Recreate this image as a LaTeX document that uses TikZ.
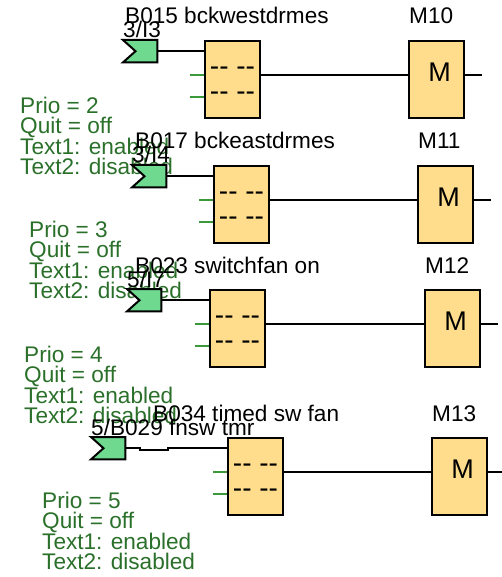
\documentclass[tikz,border=0pt]{standalone}
\usepackage{fontspec}
\setmainfont{Liberation Sans}
\definecolor{flagfill}{HTML}{6FD98F}
\definecolor{boxfill}{HTML}{FFDD8C}
\definecolor{stubgreen}{HTML}{3A9A3A}
\definecolor{notegreen}{HTML}{2A702A}
\setlength{\lineskiplimit}{-100pt}
\setlength{\normallineskiplimit}{-100pt}
\tikzset{
  lbl/.style={anchor=base west,inner sep=0pt,font=\fontsize{22.6}{22.6}\selectfont,text=black},
  note/.style={anchor=north west,inner sep=0pt,align=left,text=notegreen,font=\fontsize{22.6}{20.4}\selectfont},
  flagbox/.style={minimum width=34pt,minimum height=22pt,inner sep=0pt},
  flagshape/.style={draw=black,fill=flagfill,line width=2pt,line join=miter},
  logic/.style={draw=black,fill=boxfill,line width=2pt,minimum width=55pt,minimum height=77pt,inner sep=0pt},
  mletter/.style={inner sep=0pt,font=\fontsize{27}{27}\selectfont},
  dashes/.style={inner sep=0pt,font=\fontsize{28}{28}\selectfont},
  wire/.style={draw=black,line width=2pt},
  stub/.style={draw=stubgreen,line width=2pt},
}
% #1 row id, #2 flag left, #3 top, #4 box left, #5 mem left, #6 title, #7 title x, #8 signal, #9 mem label
\newcommand{\logicrow}[9]{%
  \node[flagbox,anchor=north west] (f#1) at (#2,#3) {};
  \draw[flagshape] (f#1.north west) -- (f#1.north east) -- (f#1.south east) -- (f#1.south west) -- ([xshift=12.5pt]f#1.west) -- cycle;
  \node[logic,anchor=north west] (b#1) at (#4,#3) {};
  \node[logic,anchor=north west] (m#1) at (#5,#3) {};
  \node[mletter] (l#1) at ([xshift=3pt,yshift=7pt]m#1.center) {M};
  \node[dashes] (da#1) at ([yshift=8pt]b#1.center) {-{}- -{}-};
  \node[dashes] (db#1) at ([yshift=-17pt]b#1.center) {-{}- -{}-};
  \coordinate (i#1a) at ([xshift=-14pt,yshift=4.5pt]b#1.west);
  \coordinate (i#1b) at ([xshift=-14pt,yshift=-17.5pt]b#1.west);
  \draw[stub] (i#1a) -- (i#1a -| b#1.west);
  \draw[stub] (i#1b) -- (i#1b -| b#1.west);
  \draw[wire] ([yshift=4.5pt]b#1.east) -- ([yshift=4.5pt]m#1.west);
  \draw[wire] ([yshift=4.5pt]m#1.east) -- ++(16.5pt,0) coordinate (o#1);
  \node[lbl] (t#1) at (#7,#3-16) {#6};
  \node[lbl] (s#1) at (#2,#3-2) {#8};
  \node[lbl] (n#1) at (#5+1,#3-16) {#9};
}
\begin{document}
\begin{tikzpicture}[x=1pt,y=-1pt]
\useasboundingbox (0,0) rectangle (502,577);
\node[note] (p2) at (20,97) {Prio = 2\\Quit = off\\Text1: enabled\\Text2: disabled};
\node[note] (p3) at (29,221) {Prio = 3\\Quit = off\\Text1: enabled\\Text2: disabled};
\node[note] (p4) at (24,346) {Prio = 4\\Quit = off\\Text1: enabled\\Text2: disabled};
\node[note] (p5) at (42,492) {Prio = 5\\Quit = off\\Text1: enabled\\Text2: disabled};
\logicrow{1}{123}{40}{204}{408}{B015 bckwestdrmes}{125}{3/I3}{M10}
\logicrow{2}{132}{165}{213}{417}{B017 bckeastdrmes}{135}{3/I4}{M11}
\logicrow{3}{127}{289}{209}{424}{B023 switchfan on}{135}{5/I7}{M12}
\logicrow{4}{91}{437}{227}{431}{B034 timed sw fan}{153}{5/B029 fnsw tmr}{M13}
\draw[wire] (f1.east) -- (f1.east -| b1.west);
\draw[wire] (f2.east) -- (f2.east -| b2.west);
\draw[wire] (f3.east) -- (f3.east -| b3.west);
\draw[wire] (f4.east) -- ++(15,0) -- ++(0,2) -- ++(28,0) -- ++(0,-2) -- (f4.east -| b4.west);
\end{tikzpicture}
\end{document}
